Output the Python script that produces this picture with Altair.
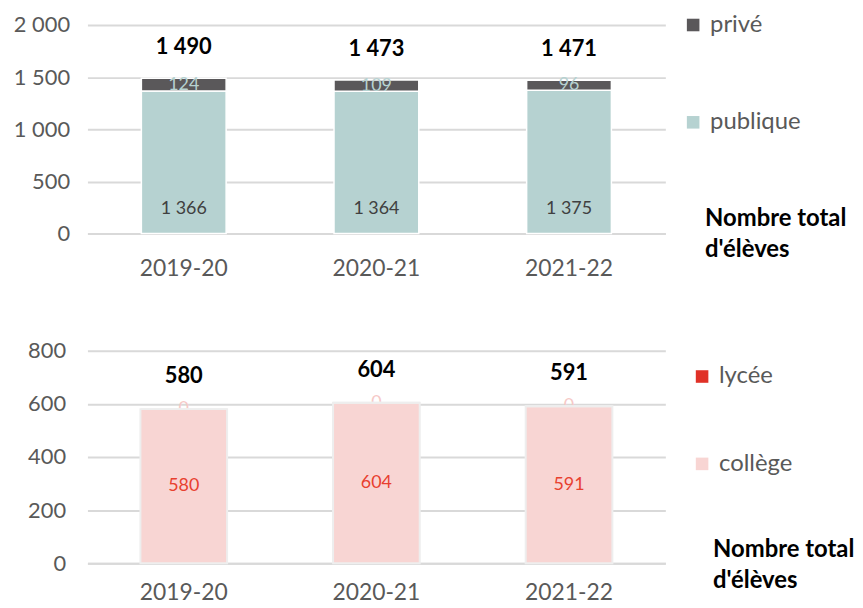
import altair as alt
import pandas as pd

# ---------------- data ----------------
years = ["2019-20", "2020-21", "2021-22"]
publique = [1366, 1364, 1375]
prive = [124, 109, 96]
college = [580, 604, 591]
lycee = [0, 0, 0]

FONT = "Lato"
GRID = "#D9D9D9"
AXIS_TXT = "#595959"
C_PRIVE = "#5A585A"
C_PUBLIQUE = "#B6D2D1"
C_LYCEE = "#E03127"
C_COLLEGE = "#F8D5D3"


def fmt(v):
    return f"{int(round(v)):,}".replace(",", " ")


W = 582

# ---------------- top chart: public / private ----------------
top_long = pd.DataFrame({
    "annee": years * 2,
    "secteur": ["publique"] * 3 + ["privé"] * 3,
    "valeur": publique + prive,
    "ordre": [0] * 3 + [1] * 3,
})
top_tab = pd.DataFrame({"annee": years, "publique": publique, "prive": prive})
top_tab["total"] = top_tab["publique"] + top_tab["prive"]
top_tab["total_lbl"] = top_tab["total"].map(fmt)
top_tab["pub_lbl"] = top_tab["publique"].map(fmt)
top_tab["prive_lbl"] = top_tab["prive"].map(fmt)
top_tab["prive_mid"] = top_tab["publique"] + top_tab["prive"] / 2
top_tab["zero"] = 0

x_axis_top = alt.Axis(title=None, labelAngle=0, labelFontSize=23, labelColor=AXIS_TXT,
                      labelPadding=24, ticks=False, domainColor=GRID, domainWidth=2)
x_top = alt.X("annee:N", sort=years, axis=x_axis_top,
              scale=alt.Scale(paddingInner=0.56, paddingOuter=0.28))

y_top_axis = alt.Axis(title=None, values=[0, 500, 1000, 1500, 2000], ticks=False,
                      domain=False, gridColor=GRID, gridWidth=2, labelFontSize=22,
                      labelColor=AXIS_TXT, labelPadding=18,
                      labelExpr="replace(format(datum.value, ','), ',', ' ')")
y_top_scale = alt.Scale(domain=[0, 2000])

bars_top = alt.Chart(top_long).mark_bar(stroke="white", strokeWidth=1.5).encode(
    x=x_top,
    y=alt.Y("valeur:Q", stack="zero", scale=y_top_scale, axis=y_top_axis),
    color=alt.Color("secteur:N",
                    scale=alt.Scale(domain=["privé", "publique"], range=[C_PRIVE, C_PUBLIQUE]),
                    legend=alt.Legend(title=None, orient="none", legendX=598, legendY=-12,
                                      symbolType="square", symbolSize=160, symbolStrokeWidth=0,
                                      labelFontSize=24, labelColor=AXIS_TXT, labelFont=FONT,
                                      rowPadding=74, padding=0, labelOffset=5)),
    order=alt.Order("ordre:Q"),
)

lbl_prive = alt.Chart(top_tab).mark_text(font=FONT, fontSize=18, color=C_PUBLIQUE,
                                         baseline="middle").encode(
    x=x_top,
    y=alt.Y("prive_mid:Q", scale=y_top_scale, axis=y_top_axis),
    text="prive_lbl:N",
)
lbl_pub = alt.Chart(top_tab).mark_text(font=FONT, fontSize=18, color="#404040",
                                       baseline="middle", dy=-25).encode(
    x=x_top,
    y=alt.Y("zero:Q", scale=y_top_scale, axis=y_top_axis),
    text="pub_lbl:N",
)
lbl_tot_top = alt.Chart(top_tab).mark_text(font=FONT, fontSize=22, fontWeight="bold",
                                           color="black", baseline="middle", dy=-31).encode(
    x=x_top,
    y=alt.Y("total:Q", scale=y_top_scale, axis=y_top_axis),
    text="total_lbl:N",
)
note_top = alt.Chart(pd.DataFrame({"k": [0]})).mark_text(
    text=["Nombre total", "d'élèves"], font=FONT, fontSize=24, fontWeight="bold",
    color="black", align="left", baseline="alphabetic", lineHeight=32,
).encode(x=alt.value(622), y=alt.value(202))

top = alt.layer(bars_top, lbl_prive, lbl_pub, lbl_tot_top, note_top).properties(
    width=W, height=210)

# ---------------- bottom chart: collège / lycée ----------------
bot_long = pd.DataFrame({
    "annee": years * 2,
    "niveau": ["collège"] * 3 + ["lycée"] * 3,
    "valeur": college + lycee,
    "ordre": [0] * 3 + [1] * 3,
})
bot_tab = pd.DataFrame({"annee": years, "college": college, "lycee": lycee})
bot_tab["total"] = bot_tab["college"] + bot_tab["lycee"]
bot_tab["total_lbl"] = bot_tab["total"].map(fmt)
bot_tab["col_lbl"] = bot_tab["college"].map(fmt)
bot_tab["lyc_lbl"] = bot_tab["lycee"].map(fmt)
bot_tab["col_mid"] = bot_tab["college"] / 2
bot_tab["lyc_mid"] = bot_tab["college"] + bot_tab["lycee"] / 2

x_axis_bot = alt.Axis(title=None, labelAngle=0, labelFontSize=23, labelColor=AXIS_TXT,
                      labelPadding=19, ticks=False, domainColor=GRID, domainWidth=2)
x_bot = alt.X("annee:N", sort=years, axis=x_axis_bot,
              scale=alt.Scale(paddingInner=0.55, paddingOuter=0.275))
y_bot_axis = alt.Axis(title=None, values=[0, 200, 400, 600, 800], ticks=False,
                      domain=False, gridColor=GRID, gridWidth=2, labelFontSize=22,
                      labelColor=AXIS_TXT, labelPadding=22)
y_bot_scale = alt.Scale(domain=[0, 800])

lbl_lyc = alt.Chart(bot_tab).mark_text(font=FONT, fontSize=18, color="#F6C9C7",
                                       baseline="middle").encode(
    x=x_bot,
    y=alt.Y("lyc_mid:Q", scale=y_bot_scale, axis=y_bot_axis),
    text="lyc_lbl:N",
)
bars_bot = alt.Chart(bot_long).mark_bar(stroke="#EEEEEE", strokeWidth=2).encode(
    x=x_bot,
    y=alt.Y("valeur:Q", stack="zero", scale=y_bot_scale, axis=y_bot_axis),
    color=alt.Color("niveau:N",
                    scale=alt.Scale(domain=["lycée", "collège"], range=[C_LYCEE, C_COLLEGE]),
                    legend=alt.Legend(title=None, orient="none", legendX=607, legendY=14,
                                      symbolType="square", symbolSize=160, symbolStrokeWidth=0,
                                      labelFontSize=24, labelColor=AXIS_TXT, labelFont=FONT,
                                      rowPadding=64, padding=0, labelOffset=5)),
    order=alt.Order("ordre:Q"),
)
lbl_col = alt.Chart(bot_tab).mark_text(font=FONT, fontSize=18, color="#E8402F",
                                       baseline="middle").encode(
    x=x_bot,
    y=alt.Y("col_mid:Q", scale=y_bot_scale, axis=y_bot_axis),
    text="col_lbl:N",
)
lbl_tot_bot = alt.Chart(bot_tab).mark_text(font=FONT, fontSize=22, fontWeight="bold",
                                           color="black", baseline="middle", dy=-33).encode(
    x=x_bot,
    y=alt.Y("total:Q", scale=y_bot_scale, axis=y_bot_axis),
    text="total_lbl:N",
)
note_bot = alt.Chart(pd.DataFrame({"k": [0]})).mark_text(
    text=["Nombre total", "d'élèves"], font=FONT, fontSize=24, fontWeight="bold",
    color="black", align="left", baseline="alphabetic", lineHeight=31,
).encode(x=alt.value(630), y=alt.value(208))

bottom = alt.layer(lbl_lyc, bars_bot, lbl_col, lbl_tot_bot, note_bot).properties(
    width=W, height=214)

chart = alt.vconcat(top, bottom, spacing=60).resolve_scale(color="independent").properties(
    padding={"left": 5, "top": 3, "right": 0, "bottom": 0}
).configure_view(stroke=None).configure_axis(labelFont=FONT).configure_text(font=FONT)

chart.save("out.html", embed_options={"renderer": "svg", "actions": False})
